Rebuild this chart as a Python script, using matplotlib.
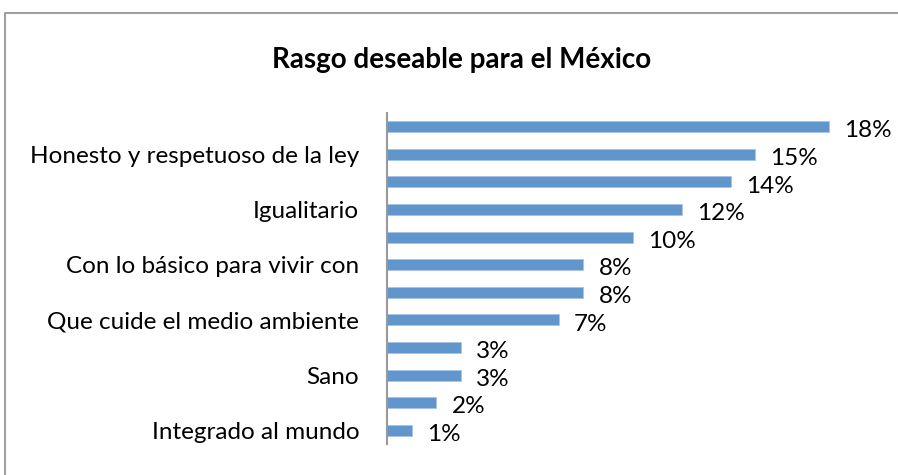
import matplotlib
matplotlib.use("Agg")
import matplotlib.pyplot as plt
from matplotlib.lines import Line2D

# Categories from top to bottom; every other axis label is left blank
categories = [
    "",
    "Honesto y respetuoso de la ley",
    "",
    "Igualitario",
    "",
    "Con lo básico para vivir con",
    "",
    "Que cuide el medio ambiente",
    "",
    "Sano",
    "",
    "Integrado al mundo",
]
values = [18, 15, 14, 12, 10, 8, 8, 7, 3, 3, 2, 1]

BAR_COLOR = "#6096cb"
FONT = "Lato"

fig = plt.figure(figsize=(8.98, 4.75), dpi=100)
fig.patch.set_facecolor("white")

# Outer chart frame: only the left and top edges fall inside the image
x0, y0 = 5 / 898, 1 - 13 / 475
fig.lines.append(Line2D([x0, x0, 1.05], [-0.05, y0, y0], transform=fig.transFigure,
                        color="#a0a0a0", lw=1.5))

ax = fig.add_axes([387 / 898, 1 - 444 / 475, (878 - 387) / 898, (444 - 113) / 475])

ypos = list(range(len(values)))
ax.barh(ypos, values, height=0.4, color=BAR_COLOR, edgecolor="#a9c4e4", lw=0.6)

for y, v in zip(ypos, values):
    ax.annotate(f"{v}%", (v, y), xytext=(11, -3), textcoords="offset points",
                ha="left", va="center", fontsize=17.5, family=FONT, color="black")

ax.set_ylim(len(values) - 0.5, -0.5)
ax.set_xlim(0, 20)
ax.set_yticks(ypos)
ax.set_yticklabels(categories, fontsize=17.5, family=FONT)
ax.tick_params(axis="y", length=0, pad=20)
ax.set_xticks([])

for side in ["top", "right", "bottom"]:
    ax.spines[side].set_visible(False)
ax.spines["left"].set_color("#999999")
ax.spines["left"].set_linewidth(1.5)

fig.text(462 / 898, 1 - 60 / 475, "Rasgo deseable para el México",
         ha="center", va="center", fontsize=20, fontweight="bold", family=FONT)

fig.savefig("out.png", dpi=100)
